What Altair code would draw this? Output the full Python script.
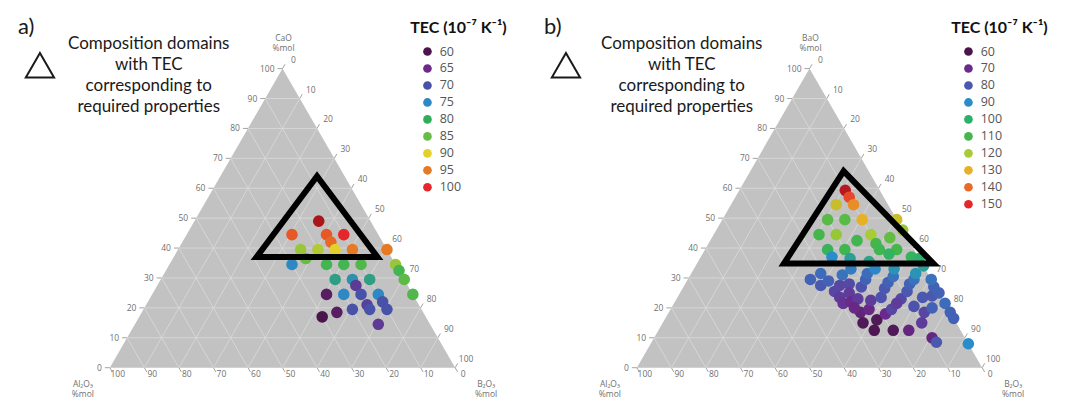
import math
import altair as alt
import pandas as pd

# ---------------- data ----------------
TICKS = [0, 10, 20, 30, 40, 50, 60, 70, 80, 90, 100]

# panel a : CaO / Al2O3 / B2O3 (mol %), TEC (1e-7 K-1)
A_CAO = [49, 44.5, 44.5, 44.5, 42, 39.5, 39.5, 39.5, 39.5, 36.5, 39.5, 34.5, 34.5, 34.5,
         34.5, 34.5, 32.5, 29.5, 24.5, 29.5, 29.5, 29.5, 27.5, 24.5, 24.5, 24.5, 24.5,
         21, 19.5, 22, 19.5, 19.5, 18.5, 17, 14.5]
A_AL2O3 = [15, 25, 15, 10, 15, 10, 15, 20, 25, 25, 0, 30, 20, 15, 10, 0, 0, 0, 0, 20, 15,
           10, 15, 25, 20, 15, 10, 15, 15, 10, 10, 20, 25, 30, 15]
A_TEC = [105, 97, 97, 100, 96, 95, 90, 88, 87, 85, 95, 75, 82, 82, 83, 87, 82, 84, 83, 78,
         76, 78, 67, 62, 75, 70, 75, 68, 70, 70, 70, 70, 62, 60, 67]
A_LEGEND = [60, 65, 70, 75, 80, 85, 90, 95, 100]
A_STOPS = [60, 65, 70, 75, 80, 85, 90, 95, 100, 105]
A_COLORS = ["#4a154b", "#6c2a86", "#4752a8", "#2e88c4", "#2fae5a", "#67bd45",
            "#e3d12a", "#e67a24", "#e5262a", "#a8161c"]
A_DOMAIN_CAO = [64, 37, 37]
A_DOMAIN_B2O3 = [28, 24, 59]

# panel b : BaO / Al2O3 / B2O3 (mol %), TEC (1e-7 K-1)
B_BAO = [59.3, 57, 54.5, 54.5, 49.5, 49.5, 49.5, 49.5, 46, 44.5, 44.5, 44.5, 43.5, 42.5,
         41.5, 39.5, 39.5, 39.5, 39.5, 37, 37, 36.5, 35.5, 38, 36.5,
         29.5, 31.5, 27.5, 29, 31, 33, 25.5, 27.5, 28, 23.5, 25, 21.5, 22, 23, 27, 29.5,
         31.5, 33, 18.5, 19.5, 22.5, 16, 12.5, 12.5, 18, 19.5, 23.5, 26.5, 28.5, 30.5, 33,
         23, 25.5, 28, 29.5, 31.5, 18.5, 23.5, 24, 27, 25, 29.5, 21.5, 18.5, 16.5, 10, 8.5,
         8, 20, 20.5, 21.5, 34, 20, 15, 12.5, 15]
B_AL2O3 = [10, 10, 10, 15, 20, 15, 10, 0, 0, 25, 20, 10, 5, 15, 10, 10, 25, 20, 5, 2, 25,
           20, 15, 8, 0,
           35, 31, 33, 30, 25, 21.5, 30, 27.5, 24.5, 29.5, 26, 29.5, 27, 24.5, 21.5, 19,
           17.5, 14.5, 26, 23, 21, 22.5, 19.5, 15, 19, 16.5, 17.5, 15, 13, 10.5, 9, 12, 9,
           7, 5, 3.5, 7.5, 5.5, 2.5, 0.5, 0, 0, 0, 0, 0, 9.5, 9, 0, 4.5, 9.5, 14, 0, 27,
           27, 25, 10]
B_TEC = [158, 145, 135, 125, 112, 112, 130, 125, 118, 110, 118, 120, 113, 108, 110, 108,
         105, 108, 110, 105, 90, 95, 97, 103, 100,
         82, 84, 80, 82, 85, 87, 76, 76, 77, 74, 74, 72, 70, 74, 79, 82, 84, 89, 67, 69, 74,
         62, 62, 68, 70, 76, 79, 80, 82, 85, 92, 77, 80, 82, 85, 92, 76, 80, 80, 82, 82, 85,
         84, 82, 82, 68, 80, 90, 82, 79, 74, 95, 69, 62, 61, 74]
B_LEGEND = [60, 70, 80, 90, 100, 110, 120, 130, 140, 150]
B_STOPS = [60, 70, 80, 90, 100, 110, 120, 130, 140, 150, 160]
B_COLORS = ["#4a154b", "#6a2a8c", "#4a58b0", "#2a8cc8", "#2cb06c", "#45b649", "#a8cc35",
            "#e8b025", "#e8692a", "#e5262a", "#a8161c"]
B_DOMAIN_BAO = [65.75, 34.8, 34.8]
B_DOMAIN_B2O3 = [27, 25.2, 68.5]

NOTE = "Composition domains\nwith TEC\ncorresponding to\nrequired properties"
LEGEND_TITLE = "TEC (10\u207b\u2077 K\u207b\u00b9)"

# ---------------- layout constants ----------------
S3 = math.sqrt(3) / 2
PX = 3.46          # pixels per composition unit
HEIGHT = 385
BASE_PX = 359      # distance of the triangle base from the plot top
FILL = "#c2c2c2"
GRID = "#dadada"
TICKC = "#8c8c8c"
LABC = "#707070"
SANS = "Lato, DejaVu Sans, sans-serif"
SMALL = "Open Sans, DejaVu Sans, sans-serif"


def tern(oxide, b2o3):
    return b2o3 + oxide / 2.0, oxide * S3


def panel(ox_name, ox, al, tec, legend_vals, stops, colors, tri_ox, tri_b, tag,
          origin_px, width, legend_x, text_cx, icon_x, tag_x):
    u0 = -origin_px / PX
    xsc = alt.Scale(domain=[u0, u0 + width / PX], nice=False, zero=False)
    ysc = alt.Scale(domain=[(BASE_PX - HEIGHT) / PX, BASE_PX / PX], nice=False, zero=False)

    def X(f):
        return alt.X(f, type="quantitative", scale=xsc, axis=None)

    def Y(f):
        return alt.Y(f, type="quantitative", scale=ysc, axis=None)

    # grey triangle
    fill_df = pd.DataFrame({"x": [0, 50, 100], "y": [0, 100 * S3, 0], "y0": [0, 0, 0]})
    fill = alt.Chart(fill_df).mark_area(color=FILL, interpolate="linear").encode(
        x=X("x"), y=Y("y"), y2=alt.Y2("y0"))

    # grid
    g = []
    for L in TICKS[1:-1]:
        for (o1, b1), (o2, b2) in [((L, 0), (L, 100 - L)),
                                   ((0, L), (100 - L, L)),
                                   ((0, 100 - L), (100 - L, 0))]:
            x1, y1 = tern(o1, b1)
            x2, y2 = tern(o2, b2)
            g.append({"x": x1, "y": y1, "x2": x2, "y2": y2})
    grid = alt.Chart(pd.DataFrame(g)).mark_rule(color=GRID, strokeWidth=0.8).encode(
        x=X("x"), y=Y("y"), x2="x2", y2="y2")

    # ticks
    TL = 5 / PX
    t = []
    left, right, bottom = [], [], []
    for L in TICKS:
        x, y = tern(L, 0)
        t.append({"x": x, "y": y, "x2": x - TL, "y2": y})
        left.append({"x": x, "y": y, "lab": str(L)})
        x, y = tern(100 - L, L)
        t.append({"x": x, "y": y, "x2": x + TL * 0.5, "y2": y + TL * S3})
        right.append({"x": x, "y": y, "lab": str(L)})
        x, y = tern(0, 100 - L)
        t.append({"x": x, "y": y, "x2": x + TL * 0.5, "y2": y - TL * S3})
        bottom.append({"x": x, "y": y, "lab": str(L)})
    ticks = alt.Chart(pd.DataFrame(t)).mark_rule(color=TICKC, strokeWidth=0.8).encode(
        x=X("x"), y=Y("y"), x2="x2", y2="y2")

    def labels(rows, **kw):
        return alt.Chart(pd.DataFrame(rows)).mark_text(
            font=SMALL, fontSize=8.5, color=LABC, **kw).encode(
            x=X("x"), y=Y("y"), text="lab:N")

    lab_l = labels(left, align="right", baseline="middle", dx=-8)
    lab_r = labels(right, align="center", baseline="middle", dx=11, dy=-9)
    lab_b = labels(bottom, align="center", baseline="middle", dx=8, dy=6)

    def title(oxide, b2o3, txt, dx, dy):
        x, y = tern(oxide, b2o3)
        return alt.Chart(pd.DataFrame({"x": [x], "y": [y], "lab": [txt]})).mark_text(
            font=SMALL, fontSize=8.5, color=LABC, lineBreak="\n", lineHeight=10,
            align="center", baseline="middle", dx=dx, dy=dy).encode(
            x=X("x"), y=Y("y"), text="lab:N")

    t_top = title(100, 0, ox_name + "\n%mol", 1, -31)
    t_al = title(0, 0, "Al\u2082O\u2083\n%mol", -27, 16)
    t_b = title(0, 100, "B\u2082O\u2083\n%mol", 31, 16)

    # data points
    pts = pd.DataFrame({"ox": ox, "al": al, "tec": tec})
    pts["b2o3"] = 100 - pts["ox"] - pts["al"]
    pts["x"] = pts["b2o3"] + pts["ox"] / 2
    pts["y"] = pts["ox"] * S3
    pts["i"] = range(len(pts))
    points = alt.Chart(pts).mark_circle(size=135, opacity=1).encode(
        x=X("x"), y=Y("y"), order="i:Q",
        color=alt.Color("tec:Q",
                        scale=alt.Scale(domain=stops, range=colors, interpolate="rgb"),
                        legend=alt.Legend(
                            title=LEGEND_TITLE, orient="none", legendX=legend_x, legendY=11,
                            type="symbol", values=legend_vals, format="d",
                            symbolType="circle", symbolSize=75, symbolStrokeWidth=0,
                            symbolOffset=11, labelOffset=6,
                            titleFont=SANS, titleFontSize=16, titleFontWeight="bold",
                            titleColor="#111111", titlePadding=9,
                            labelFont=SMALL, labelFontSize=12.5, labelColor="#555555",
                            rowPadding=4)))

    # domain triangle
    tri = pd.DataFrame({"ox": tri_ox, "b": tri_b, "k": [0, 1, 2]})
    tri["x"] = tri["b"] + tri["ox"] / 2
    tri["y"] = tri["ox"] * S3
    dom = alt.Chart(tri).mark_line(color="black", strokeWidth=6, interpolate="linear-closed",
                                   strokeJoin="miter", strokeMiterLimit=10).encode(
        x=X("x"), y=Y("y"), order="k:Q")

    # annotations
    one = pd.DataFrame({"t": [tag]})
    tag_t = alt.Chart(one).mark_text(font=SANS, fontSize=22, color="#1a1a1a", align="left",
                                     baseline="alphabetic").encode(
        x=alt.value(tag_x), y=alt.value(25), text="t:N")
    note = alt.Chart(pd.DataFrame({"t": [NOTE]})).mark_text(
        font=SANS, fontSize=17, color="#1a1a1a", align="center", baseline="alphabetic",
        lineBreak="\n", lineHeight=21).encode(
        x=alt.value(text_cx), y=alt.value(40), text="t:N")
    icon = alt.Chart(one).mark_point(shape="triangle-up", size=800, filled=False,
                                     color="#1a1a1a", strokeWidth=2, opacity=1).encode(
        x=alt.value(icon_x), y=alt.value(56))

    return alt.layer(fill, grid, ticks, lab_l, lab_r, lab_b, t_top, t_al, t_b,
                     points, dom, tag_t, note, icon).properties(width=width, height=HEIGHT)


pa = panel("CaO", A_CAO, A_AL2O3, A_TEC, A_LEGEND, A_STOPS, A_COLORS,
           A_DOMAIN_CAO, A_DOMAIN_B2O3, "a)", origin_px=101, width=532,
           legend_x=402, text_cx=140, icon_x=31, tag_x=9)
pb = panel("BaO", B_BAO, B_AL2O3, B_TEC, B_LEGEND, B_STOPS, B_COLORS,
           B_DOMAIN_BAO, B_DOMAIN_B2O3, "b)", origin_px=95, width=531,
           legend_x=410, text_cx=140, icon_x=24, tag_x=2)

chart = alt.hconcat(pa, pb, spacing=0).resolve_scale(
    color="independent", x="independent", y="independent").resolve_legend(
    color="independent").properties(padding=0, background="white").configure_view(
    stroke="transparent")

chart.save("out.html", embed_options={"renderer": "svg", "actions": False})
